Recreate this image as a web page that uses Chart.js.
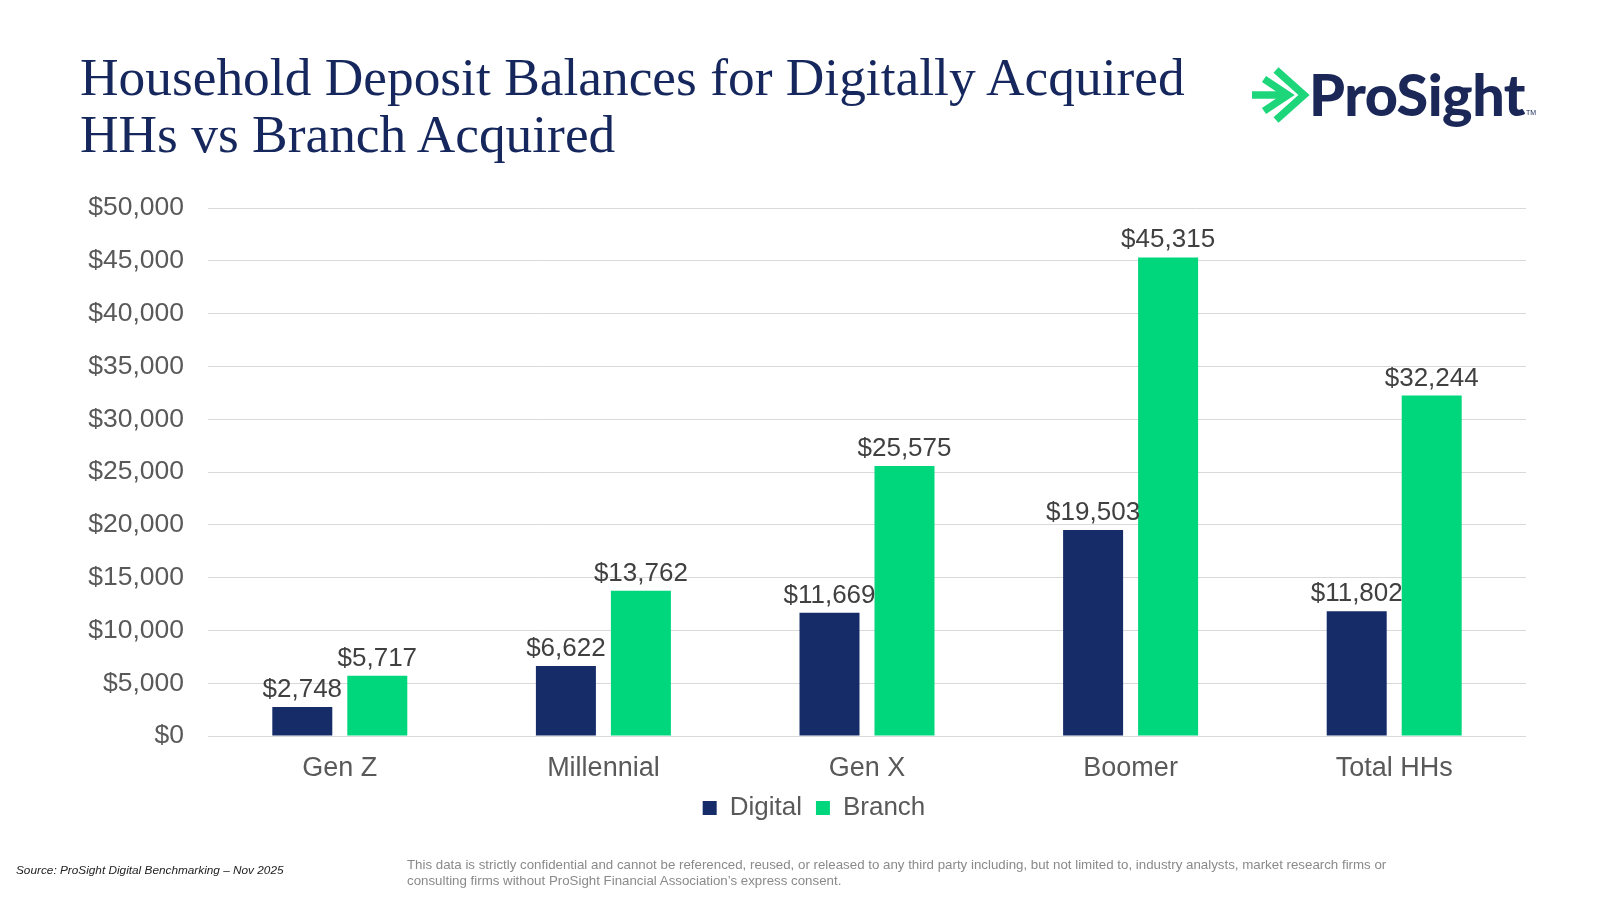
<!DOCTYPE html>
<html>
<head>
<meta charset="utf-8">
<script src="https://cdn.jsdelivr.net/npm/chart.js@4.4.0/dist/chart.umd.min.js"></script>
<style>
  html, body { margin: 0; padding: 0; background: #ffffff; }
  #wrap { position: relative; width: 1600px; height: 900px; overflow: hidden; background: #fff; }
  #chartBox { position: absolute; left: 0; top: 0; width: 1600px; height: 900px; }
  #title { position: absolute; left: 80px; top: 49px; font-family: "Liberation Serif", "Times New Roman", serif;
           font-size: 53.4px; line-height: 57px; color: #15275c; white-space: nowrap; }
  #logo { position: absolute; left: 1246px; top: 62px; width: 300px; height: 80px; }
  #logoText { position: absolute; left: 1309px; top: 61px; font-family: "Lato", "Inter", sans-serif; font-weight: 900;
              font-size: 57.5px; line-height: 66px; color: #1a2757; letter-spacing: -0.5px; }
  #tm { position: absolute; left: 1526px; top: 109px; font-family: Arial, "Liberation Sans", sans-serif; font-size: 7px; color: #1a2757; }
  #source { position: absolute; left: 16px; top: 863px; font-family: "Liberation Sans", Arial, sans-serif; font-style: italic;
            font-size: 11.8px; color: #222; white-space: nowrap; }
  #conf { position: absolute; left: 407px; top: 857px; font-family: "Liberation Sans", Arial, sans-serif;
          font-size: 13.3px; line-height: 15.5px; color: #8a8a8a; white-space: nowrap; }
</style>
</head>
<body>
<div id="wrap">
  <div id="chartBox"><canvas id="c"></canvas></div>
  <div id="title">Household Deposit Balances for Digitally Acquired<br>HHs vs Branch Acquired</div>
  <svg id="logo" viewBox="0 0 300 80" width="300" height="80">
    <g fill="none" stroke="#1ed67a" stroke-width="7.5" stroke-linecap="butt" stroke-linejoin="miter">
      <polyline points="30,8 58,33 30,58"/>
      <polyline points="18,17 42,33 18,49"/>
      <line x1="6" y1="33" x2="40" y2="33"/>
    </g>
  </svg>
  <div id="logoText">ProSight</div>
  <div id="tm">TM</div>
  <div id="source">Source: ProSight Digital Benchmarking – Nov 2025</div>
  <div id="conf">This data is strictly confidential and cannot be referenced, reused, or released to any third party including, but not limited to, industry analysts, market research firms or<br>consulting firms without ProSight Financial Association’s express consent.</div>
</div>
<script>
const categories = ["Gen Z", "Millennial", "Gen X", "Boomer", "Total HHs"];
const digitalValues = [2748, 6622, 11669, 19503, 11802];
const branchValues = [5717, 13762, 25575, 45315, 32244];
const yTicks = [0, 5000, 10000, 15000, 20000, 25000, 30000, 35000, 40000, 45000, 50000];

const fmt = v => "$" + v.toLocaleString("en-US");

const valueLabels = {
  id: "valueLabels",
  afterDatasetsDraw(chart) {
    const ctx = chart.ctx;
    ctx.save();
    ctx.font = "26px 'Liberation Sans', Arial, sans-serif";
    ctx.fillStyle = "#404040";
    ctx.textAlign = "center";
    ctx.textBaseline = "alphabetic";
    chart.data.datasets.forEach((ds, i) => {
      const meta = chart.getDatasetMeta(i);
      meta.data.forEach((el, j) => {
        ctx.fillText(fmt(ds.data[j]), el.x, el.y - 10);
      });
    });
    ctx.restore();
  }
};

const legendShift = {
  id: "legendShift",
  afterLayout(chart) {
    if (chart.legend) { chart.legend.left += 51; chart.legend.right += 51; }
  }
};

new Chart(document.getElementById("c"), {
  type: "bar",
  data: {
    labels: categories,
    datasets: [
      { label: "Digital", data: digitalValues, backgroundColor: "#152c69" },
      { label: "Branch", data: branchValues, backgroundColor: "#00d67c" }
    ]
  },
  options: {
    responsive: true,
    maintainAspectRatio: false,
    animation: false,
    devicePixelRatio: 1,
    categoryPercentage: 0.569,
    barPercentage: 0.8,
    layout: { padding: { left: 0, top: 208, right: 74, bottom: 69 } },
    plugins: {
      tooltip: { enabled: false },
      legend: {
        position: "bottom",
        labels: {
          boxWidth: 14, boxHeight: 14, padding: 14,
          color: "#595959",
          font: { family: "'Liberation Sans', Arial, sans-serif", size: 26 }
        }
      }
    },
    scales: {
      x: {
        grid: { display: false },
        border: { display: false },
        ticks: { color: "#595959", padding: 8, font: { family: "'Liberation Sans', Arial, sans-serif", size: 27 } },
        afterFit(s) { s.height = 45; }
      },
      y: {
        min: 0, max: 50000,
        afterBuildTicks(s) { s.ticks = yTicks.map(v => ({ value: v })); },
        grid: { color: "#d9d9d9", lineWidth: 1, drawTicks: false },
        border: { display: false },
        ticks: {
          color: "#595959", padding: 24,
          font: { family: "'Liberation Sans', Arial, sans-serif", size: 26.5 },
          callback: v => fmt(v)
        },
        afterFit(s) { s.width = 208; }
      }
    }
  },
  plugins: [valueLabels, legendShift]
});
</script>
</body>
</html>
